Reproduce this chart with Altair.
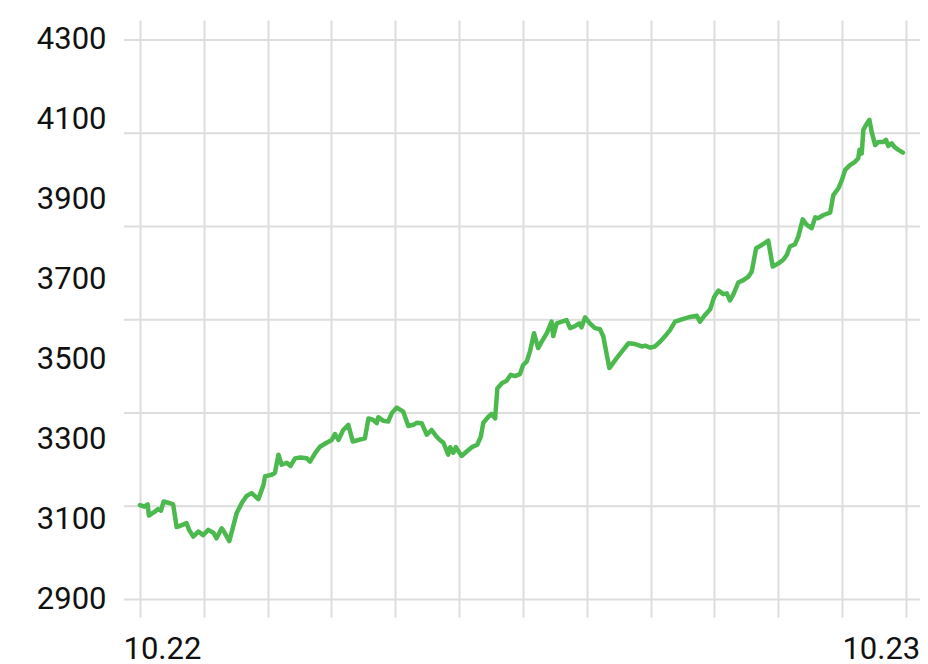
import altair as alt
import pandas as pd

# hours after the 10.22 tick (0 .. 24) and price values
hours = [0.00, 0.14, 0.24, 0.28, 0.42, 0.57, 0.66, 0.74, 0.89, 1.04, 1.15, 1.31, 1.46, 1.54, 1.67,
         1.83, 1.98, 2.14, 2.30, 2.40, 2.56, 2.66, 2.80, 2.92, 3.03, 3.19, 3.34, 3.50, 3.71, 3.87,
         3.92, 4.13, 4.23, 4.34, 4.44, 4.60, 4.72, 4.86, 5.02, 5.23, 5.33, 5.49, 5.64, 5.85, 6.01,
         6.11, 6.22, 6.37, 6.53, 6.67, 6.84, 7.05, 7.16, 7.31, 7.42, 7.47, 7.63, 7.78, 7.89, 8.05,
         8.25, 8.41, 8.57, 8.67, 8.83, 8.99, 9.14, 9.30, 9.40, 9.51, 9.66, 9.72, 9.82, 9.90, 10.08,
         10.24, 10.40, 10.57, 10.68, 10.76, 10.92, 11.02, 11.13, 11.20, 11.34, 11.49, 11.62, 11.75,
         11.91, 12.01, 12.12, 12.22, 12.35, 12.48, 12.59, 12.75, 12.90, 12.95, 13.06, 13.22, 13.37,
         13.48, 13.63, 13.77, 13.84, 13.95, 14.10, 14.26, 14.42, 14.52, 14.71, 14.94, 15.10, 15.31,
         15.52, 15.73, 15.83, 15.99, 16.14, 16.30, 16.46, 16.61, 16.77, 16.98, 17.19, 17.45, 17.55,
         17.71, 17.87, 17.99, 18.13, 18.28, 18.39, 18.49, 18.60, 18.75, 18.91, 19.07, 19.17, 19.31,
         19.49, 19.69, 19.83, 20.01, 20.16, 20.27, 20.37, 20.53, 20.63, 20.77, 20.90, 21.05, 21.16,
         21.26, 21.42, 21.63, 21.73, 21.89, 21.99, 22.10, 22.25, 22.41, 22.51, 22.55, 22.62, 22.67,
         22.78, 22.86, 22.93, 23.04, 23.14, 23.30, 23.38, 23.45, 23.56, 23.66, 23.77, 23.91]

values = [3136, 3132, 3138, 3110, 3117, 3126, 3122, 3145, 3142, 3138, 3081, 3086, 3091, 3074, 3057,
          3070, 3061, 3074, 3067, 3053, 3078, 3066, 3046, 3082, 3116, 3141, 3159, 3166, 3151, 3186,
          3208, 3212, 3217, 3262, 3237, 3242, 3234, 3253, 3255, 3253, 3245, 3266, 3282, 3292, 3299,
          3314, 3299, 3324, 3337, 3295, 3299, 3303, 3353, 3349, 3341, 3356, 3347, 3345, 3366, 3380,
          3370, 3334, 3337, 3342, 3341, 3312, 3324, 3307, 3299, 3292, 3262, 3281, 3267, 3281, 3259,
          3270, 3281, 3287, 3307, 3342, 3357, 3364, 3353, 3428, 3441, 3447, 3462, 3459,
          3464, 3487, 3495, 3520, 3566, 3529, 3545, 3566, 3595, 3559, 3591, 3595, 3599,
          3579, 3584, 3591, 3581, 3606, 3591, 3579, 3576, 3558, 3479, 3504, 3520, 3541,
          3539, 3533, 3535, 3530, 3533, 3545, 3559, 3574, 3595, 3601, 3606, 3610, 3595,
          3612, 3626, 3656, 3673, 3664, 3666, 3648, 3664, 3693, 3699, 3708, 3720, 3779,
          3787, 3798, 3733, 3741, 3750, 3762, 3783, 3789, 3808, 3851, 3837, 3829, 3856,
          3854, 3862, 3868, 3912, 3929, 3948, 3975, 3987, 3995, 4004, 4025, 4016, 4075,
          4091, 4100, 4070, 4037, 4045, 4045, 4050, 4035, 4041, 4031, 4025, 4018]

y_labels = [2900, 3100, 3300, 3500, 3700, 3900, 4100, 4300]
y_grid = [2900, 3133.33, 3366.67, 3600, 3833.33, 4066.67, 4300]
x_ticks = [0, 2, 4, 6, 8, 10, 12, 14, 16, 18, 20, 22, 24]
x_first_label = "10.22"
x_last_label = "10.23"

line_df = pd.DataFrame({"h": hours, "v": values})
grid_df = pd.DataFrame({"g": y_grid})

FONT = "Roboto"
GRID = "#dddddd"

# plot spans 124..920 px; 0 h at 140 px and 24 h at ~906 px
xscale = alt.Scale(domain=[-0.5, 24.445], nice=False, zero=False)
yscale = alt.Scale(domain=[2856, 4350], nice=False, zero=False)

xaxis = alt.Axis(
    values=x_ticks, title=None, grid=True, gridColor=GRID, gridWidth=2,
    ticks=False, domain=False,
    labelExpr=f"datum.value == 0 ? '{x_first_label}' : (datum.value == 24 ? '{x_last_label}' : '')",
    labelAlign={"condition": {"test": "datum.value == 0", "value": "left"}, "value": "right"},
    labelOffset={"condition": {"test": "datum.value == 0", "value": -17}, "value": 14},
    labelFont=FONT, labelFontSize=31, labelColor="#111111", labelPadding=17,
)
yaxis = alt.Axis(
    values=y_labels, title=None, grid=False, ticks=False, domain=False, format="d",
    labelFont=FONT, labelFontSize=31, labelColor="#111111", labelPadding=18,
)

grid = alt.Chart(grid_df).mark_rule(color=GRID, strokeWidth=2).encode(
    y=alt.Y("g:Q", scale=yscale, axis=yaxis)
)

line = alt.Chart(line_df).mark_line(
    color="#4cb94f", strokeWidth=4.5, strokeJoin="round", strokeCap="round"
).encode(
    x=alt.X("h:Q", scale=xscale, axis=xaxis),
    y=alt.Y("v:Q", scale=yscale, axis=yaxis),
)

chart = alt.layer(grid, line).properties(
    width=796, height=597,
    autosize=alt.AutoSizeParams(type="none"),
    padding={"left": 116, "top": 12, "right": 0, "bottom": 52},
).configure_view(stroke=None)

chart.save("out.html", embed_options={"renderer": "svg", "actions": False})
